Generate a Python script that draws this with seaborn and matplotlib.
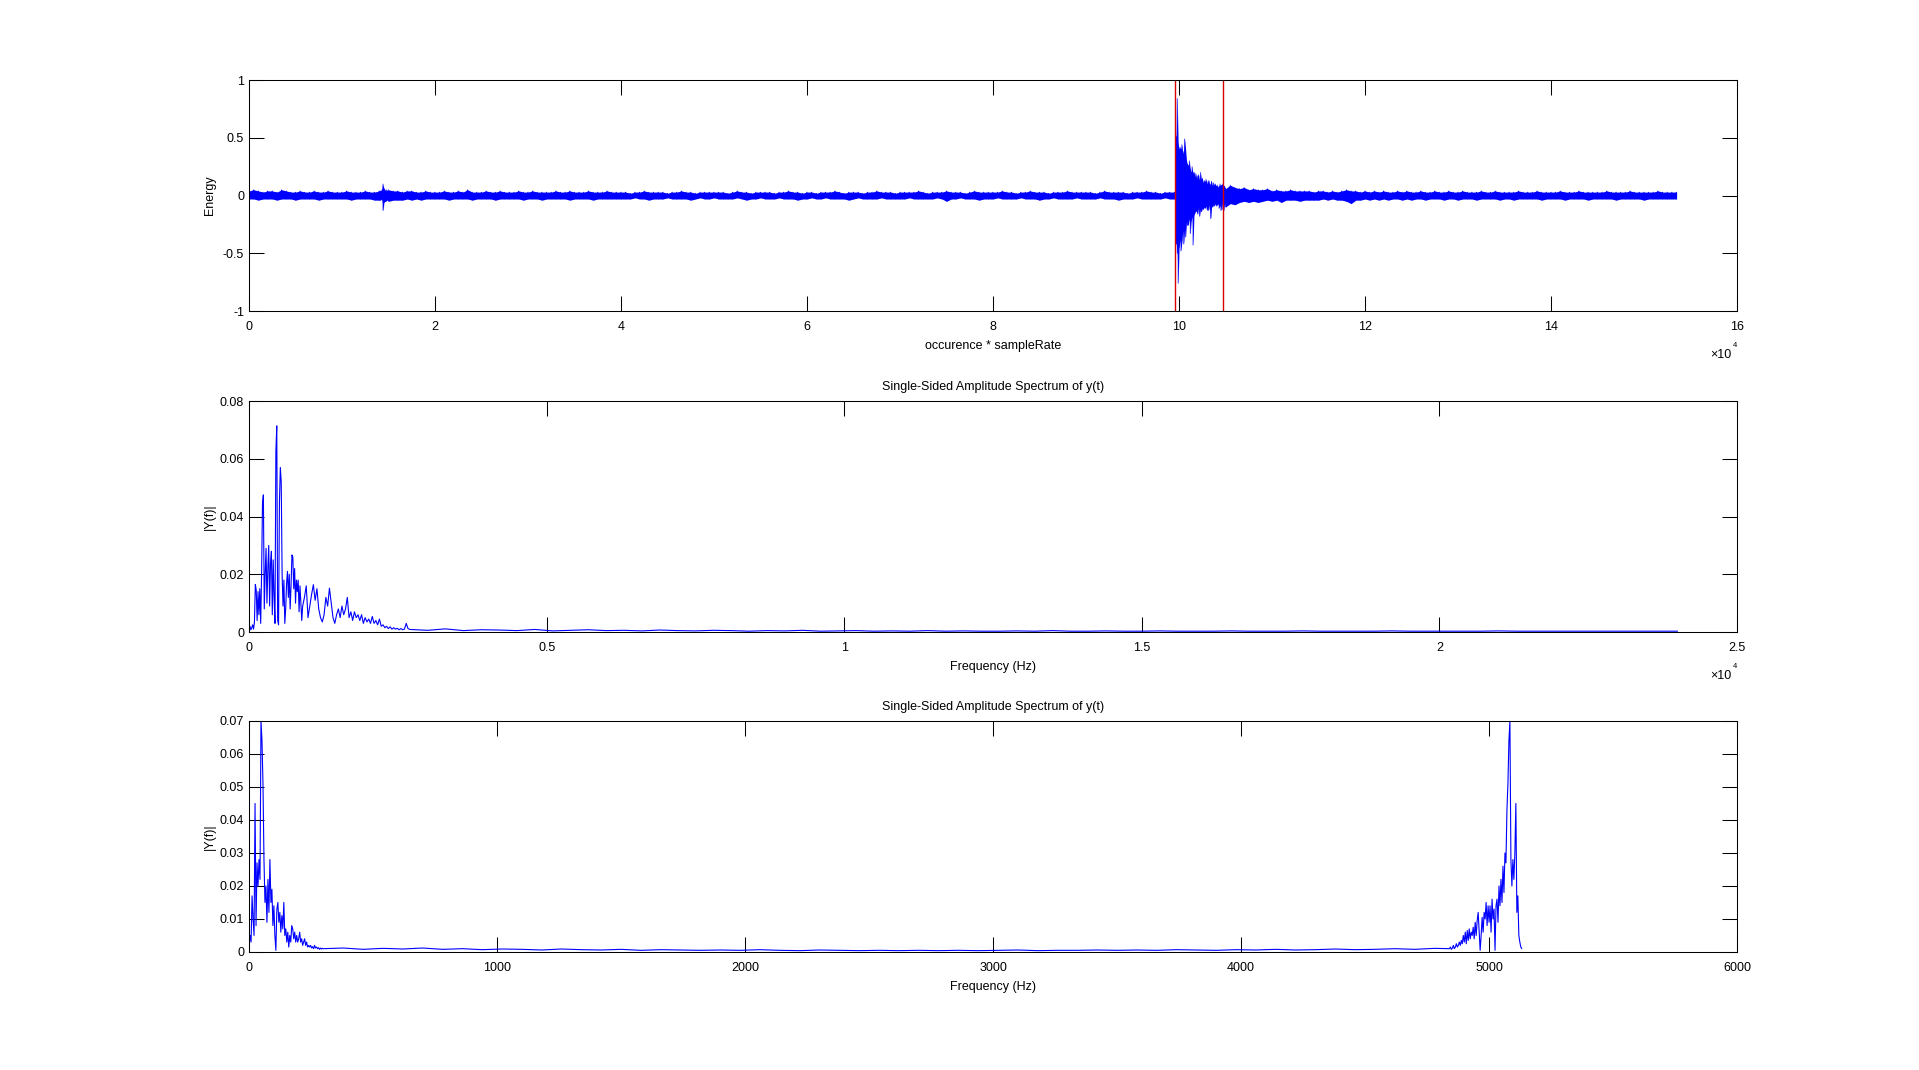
import numpy as np
import pandas as pd
import matplotlib
matplotlib.use("Agg")
import matplotlib.pyplot as plt
import matplotlib.ticker as mtick
import seaborn as sns

# ---------------- data ----------------
# Panel 1: recorded signal, upper / lower edge of the trace per bin (units of 0.01)
sig_a_start, sig_a_step = 0, 500          # quiet start
sig_hi_a = [4, 5, 4, 3, 4, 4, 3, 5, 4, 3, 3, 4, 3, 3, 4, 3, 3, 4, 3, 3,
            3, 4, 3, 3, 3, 4, 3, 3, 4]
sig_lo_a = [-3, -3, -4, -3, -3, -3, -4, -3, -3, -3, -4, -3, -3, -3, -3, -4, -3, -3, -3, -3,
            -3, -3, -4, -3, -3, -3, -3, -4, -4]

sig_s_start, sig_s_step = 14100, 100      # small click near 1.45e4
sig_hi_s = [4, 4, 5, 10, 6, 5, 4, 5, 4]
sig_lo_s = [-4, -3, -4, -13, -6, -5, -5, -4, -4]

sig_q_start, sig_q_step = 15000, 500      # quiet part before the event
sig_hi_q = [5, 4, 4, 3, 4, 4, 3, 3, 4, 3,
            3, 3, 4, 3, 3, 4, 3, 5, 3, 3, 3, 4, 3, 3, 4, 3, 3, 3, 4, 3,
            3, 4, 3, 3, 3, 3, 4, 3, 3, 4, 3, 3, 3, 4, 3, 3, 3, 4, 3, 3,
            3, 3, 2, 3, 3, 4, 3, 3, 3, 3, 2, 3, 3, 4, 3, 3, 2, 3, 3, 3,
            3, 3, 3, 2, 3, 4, 3, 3, 2, 3, 3, 3, 3, 2, 3, 3, 4, 3, 3, 2,
            3, 3, 2, 3, 3, 3, 4, 3, 2, 3, 3, 3, 2, 3, 3, 4, 3, 3, 3, 2,
            3, 3, 3, 3, 4, 3, 2, 3, 3, 3, 4, 3, 3, 3, 2, 3, 4, 3, 3, 3,
            3, 3, 4, 3, 3, 2, 3, 3, 4, 3, 3, 3, 2, 3, 3, 3, 4, 3, 3, 3,
            3, 3, 2, 3, 4, 3, 3, 3, 3, 2, 3, 3, 3, 4, 3, 3, 2, 3, 3, 3]
sig_lo_q = [-5, -4, -4, -4, -3, -4, -3, -4, -3, -3,
            -3, -3, -3, -4, -3, -3, -3, -3, -4, -3, -3, -3, -3, -4, -3, -3, -3, -3, -3, -4,
            -3, -3, -3, -4, -3, -3, -3, -3, -3, -4, -3, -3, -3, -3, -4, -3, -3, -3, -3, -3,
            -3, -3, -3, -2, -3, -3, -4, -3, -3, -3, -2, -3, -3, -3, -3, -4, -3, -2, -3, -3,
            -2, -3, -3, -3, -3, -2, -3, -4, -3, -3, -2, -3, -3, -3, -2, -3, -3, -3, -4, -3,
            -3, -2, -3, -3, -2, -3, -3, -3, -3, -4, -3, -2, -3, -3, -3, -3, -2, -3, -3, -3,
            -3, -3, -2, -3, -3, -3, -3, -3, -2, -3, -5, -3, -3, -2, -3, -3, -3, -4, -3, -3,
            -3, -2, -3, -3, -3, -3, -2, -3, -3, -3, -4, -3, -3, -2, -3, -3, -3, -3, -2, -3,
            -3, -3, -3, -2, -3, -3, -3, -4, -3, -3, -3, -2, -3, -3, -3, -3, -3, -2, -3, -3]

sig_b_start, sig_b_step = 99600, 100      # the event itself
sig_hi_b = [3, 51, 84, 45, 40, 42, 40, 44, 36, 38,
            49, 40, 30, 27, 26, 30, 23, 20, 25, 18,
            20, 16, 19, 14, 17, 18, 13, 20, 14, 15,
            11, 13, 12, 14, 10, 12, 13, 9, 10, 12,
            8, 11, 9, 10, 8, 9, 7, 8, 10, 7,
            9, 10, 6, 8, 6]
sig_lo_b = [-3, -42, -50, -76, -45, -38, -48, -40, -30, -42,
            -28, -36, -22, -26, -25, -20, -33, -22, -18, -43,
            -17, -15, -13, -14, -16, -10, -18, -12, -14, -11,
            -12, -10, -11, -9, -12, -13, -8, -12, -20, -9,
            -10, -8, -9, -7, -9, -8, -7, -11, -8, -13,
            -6, -12, -13, -6, -10]

sig_c_start, sig_c_step = 105500, 500     # decaying tail
sig_hi_c = [9, 7, 6, 7, 5, 6, 5, 5, 6, 4, 5, 4, 4, 5, 4, 4, 4, 4, 3, 4,
            4, 3, 4, 3, 4, 5, 4, 4, 3, 4, 3, 4, 3, 4, 3, 3, 4, 3, 4, 3,
            3, 4, 3, 3, 4, 3, 3, 4, 3, 3, 4, 3, 3, 3, 4, 3, 3, 4, 3, 3,
            3, 3, 4, 3, 3, 3, 4, 3, 3, 3, 3, 4, 3, 3, 3, 4, 3, 3, 3, 3,
            3, 4, 3, 3, 3, 3, 4, 3, 3, 3, 3, 3, 4, 3, 3, 3, 3]
sig_lo_c = [-7, -8, -6, -5, -6, -5, -6, -5, -4, -5, -4, -6, -4, -4, -4, -5, -4, -4, -4, -4,
            -3, -4, -3, -4, -4, -5, -7, -4, -4, -3, -4, -3, -4, -3, -4, -3, -3, -4, -3, -4,
            -3, -3, -4, -3, -3, -3, -4, -3, -3, -4, -3, -3, -3, -4, -3, -3, -3, -3, -4, -3,
            -3, -4, -3, -3, -3, -3, -3, -4, -3, -3, -3, -3, -4, -3, -3, -3, -3, -4, -3, -3,
            -3, -3, -3, -4, -3, -3, -3, -3, -3, -4, -3, -3, -3, -3, -3, -3, -3]

event_marks = [99600, 104700]

# Panel 2: single-sided spectrum (units of 0.001)
mid_1_start, mid_1_step = 0, 15
mid_amp_1 = [1.2, 2.0, 0.8, 1.5, 2.5, 1.0, 3.5, 16.5, 14.5, 4.0,
             14.0, 6.0, 15.0, 3.0, 20.0, 44.5, 47.5, 8.0, 20.0, 29.0,
             10.0, 22.0, 30.0, 9.0, 24.0, 28.0, 6.0, 25.0, 12.0, 3.0,
             62.5, 71.4, 4.0, 2.5, 45.0, 57.0, 52.0, 20.0, 9.0, 18.0,
             3.0, 8.0, 17.0, 21.0, 12.0, 20.0, 8.0, 16.0, 26.7, 26.0,
             15.0, 22.0, 10.0, 18.0, 14.0, 18.0, 7.0, 16.0, 10.0, 4.0]
mid_2_start, mid_2_step = 900, 30
mid_amp_2 = [9, 12, 16, 5, 9, 13, 16.4, 11, 15, 8,
             5, 3.5, 6, 12, 9, 15.2, 10, 5, 3, 6,
             8, 5, 9, 6, 8, 12, 5, 7, 4, 7,
             5, 6, 4, 6, 3, 5, 3.5, 4.5, 3, 5.4,
             3, 4, 2.5, 4.5, 2, 2.5, 1.5, 2, 1.2, 1.8,
             1.0, 1.5, 1.0, 1.3, 0.8, 1.2, 0.8, 1.0, 3.0, 1.2]
mid_3_start, mid_3_step = 2700, 300
mid_amp_3 = [0.9, 0.6, 1.1, 0.5, 0.8, 0.7, 0.5, 0.9, 0.4, 0.6, 0.8, 0.5, 0.6, 0.4, 0.7, 0.5, 0.4, 0.6, 0.5, 0.3,
             0.5, 0.4, 0.6, 0.3, 0.4, 0.5, 0.3, 0.4, 0.3, 0.5, 0.3, 0.4, 0.3, 0.3, 0.4, 0.3, 0.5, 0.3, 0.3, 0.4,
             0.3, 0.3, 0.4, 0.3, 0.3, 0.3, 0.4, 0.3, 0.3, 0.3, 0.4, 0.3, 0.3, 0.3, 0.3, 0.4, 0.3, 0.3, 0.3, 0.3,
             0.3, 0.4, 0.3, 0.3, 0.3, 0.3, 0.3, 0.3, 0.3, 0.3, 0.3, 0.3]

# Panel 3: spectrum of the resampled signal (units of 0.001)
bot_1_start, bot_1_step = 0, 4
bot_amp_1 = [2.0, 5.0, 3.0, 17.0, 10.0, 5.0, 45.0, 8.0, 27.0, 20.0,
             28.0, 22.0, 70.0, 64.0, 51.0, 28.0, 15.0, 20.0, 9.0, 22.0,
             12.0, 28.0, 15.0, 19.0, 8.0, 14.0, 5.0, 0.5, 13.0, 15.0,
             9.0, 12.0, 6.0, 11.0, 7.0, 15.0, 5.0, 7.0, 3.0, 6.0,
             1.5, 5.0, 3.0, 8.0, 7.0, 4.0, 6.0, 3.0, 5.0, 3.0,
             4.0, 6.0, 3.0, 4.0, 2.0, 3.0, 4.0, 2.0, 3.0, 1.5,
             2.0, 1.5, 2.0, 1.2, 1.6, 1.0, 2.0, 1.2, 1.5, 1.0,
             1.3, 0.8, 1.2, 0.9, 1.1]
bot_2_start, bot_2_step = 300, 80
bot_amp_2 = [1.0, 1.2, 0.8, 1.1, 0.9, 1.2, 0.8, 1.0, 0.7, 0.9,
             0.8, 0.6, 0.9, 0.7, 0.6, 0.8, 0.5, 0.7, 0.6, 0.5,
             0.6, 0.5, 0.7, 0.5, 0.4, 0.6, 0.5, 0.4, 0.5, 0.4,
             0.5, 0.4, 0.5, 0.4, 0.5, 0.6, 0.4, 0.5, 0.5, 0.6,
             0.5, 0.6, 0.5, 0.7, 0.6, 0.5, 0.7, 0.6, 0.8, 0.6,
             0.7, 0.9, 0.7, 0.8, 1.0, 0.8, 1.1]
bot_3_start, bot_3_step = 4840, 4
bot_amp_3 = [1.0, 1.5, 0.8, 1.2, 2.0, 1.0, 1.5, 2.5, 1.5, 2.0,
             3.0, 2.0, 3.5, 2.5, 5.0, 3.0, 6.0, 2.5, 6.5, 3.5,
             7.0, 4.0, 6.0, 5.0, 7.5, 4.0, 9.0, 5.0, 9.5, 12.0,
             6.0, 0.5, 5.0, 10.5, 6.0, 12.0, 10.0, 15.0, 8.0, 14.0,
             9.0, 14.0, 6.0, 16.0, 10.0, 13.0, 0.5, 14.0, 16.0, 9.0,
             20.0, 14.0, 22.0, 15.0, 26.0, 18.0, 30.0, 27.0, 43.0, 51.0,
             64.0, 70.0, 28.0, 20.0, 28.0, 22.0, 30.0, 45.0, 12.0, 17.0,
             5.0, 3.0, 1.5, 1.0]


def grid(start, step, values):
    return start + step * np.arange(len(values))


# ---------------- tables ----------------
sig_x = np.concatenate([grid(sig_a_start, sig_a_step, sig_hi_a),
                        grid(sig_s_start, sig_s_step, sig_hi_s),
                        grid(sig_q_start, sig_q_step, sig_hi_q),
                        grid(sig_b_start, sig_b_step, sig_hi_b),
                        grid(sig_c_start, sig_c_step, sig_hi_c)])
sig_hi = np.array(sig_hi_a + sig_hi_s + sig_hi_q + sig_hi_b + sig_hi_c) / 100
sig_lo = np.array(sig_lo_a + sig_lo_s + sig_lo_q + sig_lo_b + sig_lo_c) / 100
# trace drawn as it swings between the two edges of every bin
sig_df = pd.DataFrame({"x": np.repeat(sig_x, 2),
                       "y": np.column_stack([sig_hi, sig_lo]).ravel()})

mid_df = pd.DataFrame({
    "f": np.concatenate([grid(mid_1_start, mid_1_step, mid_amp_1),
                         grid(mid_2_start, mid_2_step, mid_amp_2),
                         grid(mid_3_start, mid_3_step, mid_amp_3)]),
    "amp": np.array(mid_amp_1 + mid_amp_2 + mid_amp_3) / 1000})

bot_df = pd.DataFrame({
    "f": np.concatenate([grid(bot_1_start, bot_1_step, bot_amp_1),
                         grid(bot_2_start, bot_2_step, bot_amp_2),
                         grid(bot_3_start, bot_3_step, bot_amp_3)]),
    "amp": np.array(bot_amp_1 + bot_amp_2 + bot_amp_3) / 1000})

# ---------------- style ----------------
sns.set_theme(style="white", rc={
    "axes.edgecolor": "black", "axes.linewidth": 0.75,
    "xtick.color": "black", "ytick.color": "black",
    "text.color": "black", "axes.labelcolor": "black",
})
plt.rcParams["font.family"] = ["Liberation Sans", "DejaVu Sans"]
FS = 9
BLUE = "#0000ff"

fig = plt.figure(figsize=(19.19, 10.70), dpi=100)
left, width, height = 0.1298, 0.7754, 0.2159
ax1 = fig.add_axes([left, 0.7093, width, height])
ax2 = fig.add_axes([left, 0.4093, width, height])
ax3 = fig.add_axes([left, 0.1103, width, height])

g = lambda v, _: f"{v:g}"


def style(ax):
    ax.tick_params(direction="in", length=10.5, width=0.75, bottom=True, left=True,
                   top=True, right=True, labelsize=FS, colors="black")
    ax.tick_params(axis="x", pad=7)
    ax.tick_params(axis="y", pad=3.5)
    ax.yaxis.set_major_formatter(mtick.FuncFormatter(g))
    ax.yaxis.set_label_coords(-0.022, 0.5)
    for s in ax.spines.values():
        s.set_visible(True)
        s.set_color("black")
        s.set_linewidth(0.75)


def times_ten(ax):
    ax.text(0.9965, -0.192, "\u00d710", transform=ax.transAxes, ha="right",
            va="center", fontsize=FS)
    ax.text(0.9985, -0.148, "4", transform=ax.transAxes, ha="center",
            va="center", fontsize=5.5)


# panel 1
ax1.fill_between(sig_x, sig_lo, sig_hi, color=BLUE, lw=0)
sns.lineplot(data=sig_df, x="x", y="y", ax=ax1, estimator=None, sort=False,
             color=BLUE, lw=0.5)
for xm in event_marks:
    ax1.axvline(xm, color="#d80000", lw=1.0)
ax1.set_xlim(0, 160000)
ax1.set_ylim(-1, 1)
ax1.set_xticks(np.arange(0, 160001, 20000))
ax1.set_yticks([-1, -0.5, 0, 0.5, 1])
ax1.xaxis.set_major_formatter(mtick.FuncFormatter(lambda v, _: f"{v / 1e4:g}"))
ax1.set_xlabel("occurence * sampleRate", fontsize=FS, labelpad=5)
ax1.set_ylabel("Energy", fontsize=FS)
style(ax1)
times_ten(ax1)

# panel 2
sns.lineplot(data=mid_df, x="f", y="amp", ax=ax2, estimator=None, sort=False,
             color=BLUE, lw=0.8)
ax2.set_xlim(0, 25000)
ax2.set_ylim(0, 0.08)
ax2.set_xticks(np.arange(0, 25001, 5000))
ax2.set_yticks([0, 0.02, 0.04, 0.06, 0.08])
ax2.xaxis.set_major_formatter(mtick.FuncFormatter(lambda v, _: f"{v / 1e4:g}"))
ax2.set_title("Single-Sided Amplitude Spectrum of y(t)", fontsize=FS, pad=8)
ax2.set_xlabel("Frequency (Hz)", fontsize=FS, labelpad=5)
ax2.set_ylabel("|Y(f)|", fontsize=FS)
style(ax2)
times_ten(ax2)

# panel 3
sns.lineplot(data=bot_df, x="f", y="amp", ax=ax3, estimator=None, sort=False,
             color=BLUE, lw=0.8)
ax3.set_xlim(0, 6000)
ax3.set_ylim(0, 0.07)
ax3.set_xticks(np.arange(0, 6001, 1000))
ax3.set_yticks(np.arange(0, 0.0701, 0.01))
ax3.xaxis.set_major_formatter(mtick.FuncFormatter(g))
ax3.set_title("Single-Sided Amplitude Spectrum of y(t)", fontsize=FS, pad=8)
ax3.set_xlabel("Frequency (Hz)", fontsize=FS, labelpad=5)
ax3.set_ylabel("|Y(f)|", fontsize=FS)
style(ax3)

fig.savefig("out.png", dpi=100, facecolor="white")
